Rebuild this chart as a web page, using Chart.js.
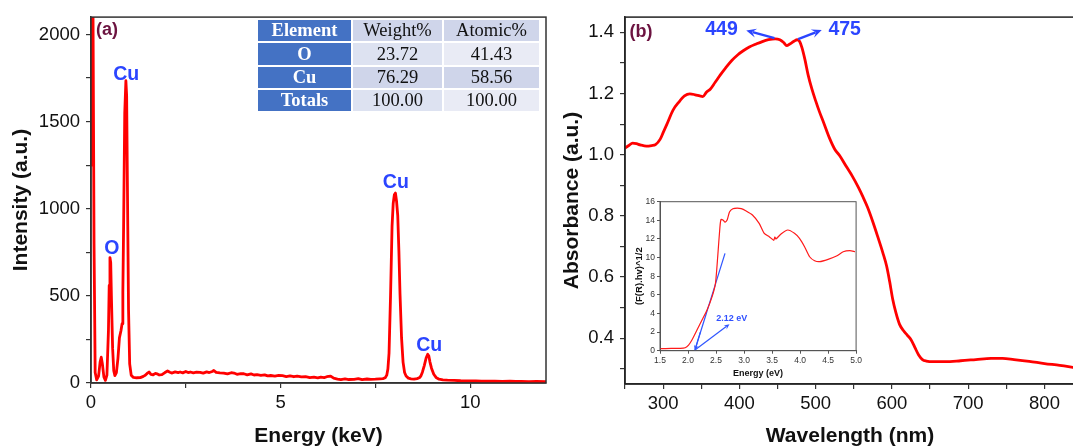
<!DOCTYPE html>
<html><head><meta charset="utf-8">
<script src="https://cdn.jsdelivr.net/npm/chart.js@4.4.1/dist/chart.umd.min.js"></script>
<style>
html,body{margin:0;padding:0;background:#fff;overflow:hidden;width:1073px;height:447px;}
#wrap{position:relative;width:1073px;height:447px;overflow:hidden;background:#fff;}
canvas{position:absolute;}
#cA{left:0;top:0;}
#cB{left:560px;top:0;}
#cI{left:632px;top:192px;}
#tbl{position:absolute;left:258px;top:20px;display:grid;grid-template-columns:93px 89px 95px;grid-auto-rows:21.3px;gap:2px;font-family:"Liberation Serif","Times New Roman",serif;font-size:18.5px;color:#111;}
#tbl div{display:flex;align-items:center;justify-content:center;line-height:1;}
#tbl .el{background:#4472C4;color:#fff;font-weight:bold;}
</style>
</head><body>
<div id="wrap">
<canvas id="cA" width="560" height="447"></canvas>
<canvas id="cB" width="516" height="447"></canvas>
<canvas id="cI" width="232" height="190"></canvas>
<div id="tbl"></div>
</div>
<script>
// ---------- EDS spectrum (panel a) ----------
const edsEnergy = [0.00,0.02,0.05,0.08,0.11,0.15,0.20,0.24,0.27,0.30,0.34,0.38,0.42,0.46,0.48,0.50,0.52,0.54,0.57,0.60,0.63,0.67,0.71,0.75,0.79,0.82,0.84,0.86,0.89,0.92,0.94,0.97,0.99,1.02,1.06,1.12,1.20,1.30,1.38,1.43,1.48,1.53,1.58,1.64,1.70,1.74,1.80,1.87,1.95,2.02,2.08,2.14,2.22,2.30,2.35,2.42,2.50,2.56,2.62,2.70,2.78,2.88,2.96,3.05,3.12,3.20,3.24,3.30,3.40,3.50,3.60,3.70,3.77,3.85,3.95,4.03,4.12,4.22,4.30,4.38,4.48,4.58,4.66,4.74,4.85,4.95,5.05,5.15,5.25,5.35,5.44,5.55,5.66,5.77,5.88,5.98,6.06,6.15,6.22,6.32,6.40,6.50,6.59,6.70,6.80,6.94,7.05,7.15,7.28,7.38,7.50,7.62,7.70,7.76,7.80,7.83,7.86,7.90,7.94,7.97,8.00,8.03,8.06,8.09,8.12,8.15,8.19,8.23,8.27,8.31,8.37,8.44,8.52,8.60,8.66,8.70,8.74,8.79,8.84,8.88,8.91,8.94,8.98,9.04,9.10,9.18,9.28,9.40,9.58,9.75,9.95,10.15,10.30,10.47,10.65,10.85,11.05,11.20,11.35,11.55,11.75,12.00];
const edsIntensity = [1250,2500,2300,800,60,18,40,120,148,110,35,15,45,300,560,720,690,480,200,70,42,60,140,260,300,340,520,900,1550,1735,1650,900,420,110,45,32,30,31,38,44,55,63,50,47,55,53,46,48,60,69,62,57,64,60,63,58,66,60,63,58,62,61,57,64,60,66,72,61,58,57,52,59,57,50,54,53,47,52,46,48,44,47,41,43,40,44,42,37,41,36,40,35,37,31,34,30,34,31,36,40,28,22,19,24,20,21,25,19,23,21,22,24,25,30,45,80,170,500,900,1030,1080,1090,1040,960,760,510,260,120,60,40,28,24,22,25,30,40,62,100,145,165,155,120,85,50,32,22,18,16,15,13,12,12,10,11,10,9,10,9,9,8,9,8];
const edsTickValues = [0,2.5,5,7.5,10];
const edsTickLabels = [0,5,10];
const intensityTickValues = [0,250,500,750,1000,1250,1500,1750,2000];
const intensityTickLabels = [0,500,1000,1500,2000];

// ---------- EDS table ----------
const tableHeader = ['Element','Weight%','Atomic%'];
const tableElements = ['O','Cu','Totals'];
const tableWeight = ['23.72','76.29','100.00'];
const tableAtomic = ['41.43','58.56','100.00'];

// ---------- Absorbance (panel b) ----------
const wavelengthNm = [250,255,260,265,270,278,285,290,296,300,305,313,320,328,335,342,348,352,357,362,368,375,382,390,398,405,413,422,430,438,447,453,458,462,466,471,476,479,482,486,490,495,500,505,510,518,525,532,540,548,556,562,568,575,582,588,593,597,601,605,610,615,620,625,630,635,640,645,655,670,690,710,730,745,760,780,800,820,840];
const absorbance = [1.022,1.030,1.038,1.036,1.032,1.028,1.030,1.033,1.050,1.072,1.100,1.146,1.170,1.192,1.199,1.196,1.192,1.190,1.205,1.215,1.236,1.261,1.284,1.308,1.327,1.340,1.352,1.362,1.370,1.376,1.379,1.376,1.367,1.357,1.362,1.370,1.376,1.370,1.350,1.310,1.262,1.215,1.176,1.140,1.108,1.055,1.018,0.995,0.962,0.930,0.893,0.862,0.828,0.780,0.727,0.680,0.636,0.585,0.527,0.485,0.445,0.425,0.410,0.395,0.370,0.345,0.330,0.325,0.323,0.323,0.326,0.330,0.334,0.334,0.330,0.324,0.317,0.311,0.304];
const wlTickValues = [250,300,350,400,450,500,550,600,650,700,750,800];
const wlTickLabels = [300,400,500,600,700,800];
const absTickValues = [0.3,0.4,0.5,0.6,0.7,0.8,0.9,1.0,1.1,1.2,1.3,1.4];
const absTickLabels = [0.4,0.6,0.8,1.0,1.2,1.4];

// ---------- Tauc inset ----------
const taucEnergy = [1.50,1.70,1.86,1.95,2.01,2.07,2.16,2.25,2.34,2.43,2.49,2.53,2.57,2.59,2.63,2.66,2.70,2.74,2.80,2.88,2.95,3.03,3.15,3.27,3.36,3.45,3.50,3.53,3.55,3.57,3.66,3.78,3.90,3.99,4.08,4.17,4.26,4.35,4.50,4.65,4.77,4.89,4.98];
const taucValue = [0.22,0.24,0.25,0.32,0.61,1.15,2.22,3.29,4.37,5.80,7.23,10.09,13.30,14.10,14.00,13.80,14.05,14.90,15.25,15.30,15.25,15.03,14.57,13.67,12.60,12.24,12.00,11.85,12.20,12.00,12.53,12.96,12.60,12.06,11.17,10.09,9.66,9.56,9.81,10.16,10.63,10.74,10.63];
const tangentEnergy = [2.12,2.66];
const tangentValue = [0,10.45];
const taucXTicks = [1.5,2.0,2.5,3.0,3.5,4.0,4.5,5.0];
const taucYTicks = [0,2,4,6,8,10,12,14,16];
const bandGapLabel = '2.12 eV';

// ================= rendering =================
const FONT = "'Liberation Sans', Arial, Helvetica, sans-serif";
const BLUE = '#2b45ff';
const MAROON = '#6c1340';
Chart.defaults.font.family = FONT;
Chart.defaults.animation = false;

function pts(xs, ys){ return xs.map((x,i)=>({x:x, y:ys[i]})); }

const framePlugin = {
  id:'frame',
  afterDraw(chart, args, opts){
    const {ctx, chartArea:a} = chart;
    ctx.save();
    ctx.strokeStyle = opts.color || '#333';
    ctx.lineWidth = opts.width || 1.5;
    ctx.strokeRect(a.left, a.top, a.right-a.left, a.bottom-a.top);
    ctx.restore();
  }
};

function drawArrow(ctx, x1, y1, x2, y2, color, width, head){
  const ang = Math.atan2(y2-y1, x2-x1);
  ctx.strokeStyle = color; ctx.fillStyle = color; ctx.lineWidth = width;
  ctx.beginPath();
  ctx.moveTo(x1,y1);
  ctx.lineTo(x2 - Math.cos(ang)*head*0.6, y2 - Math.sin(ang)*head*0.6);
  ctx.stroke();
  ctx.beginPath();
  ctx.moveTo(x2,y2);
  ctx.lineTo(x2 - head*Math.cos(ang-0.42), y2 - head*Math.sin(ang-0.42));
  ctx.lineTo(x2 - head*0.55*Math.cos(ang), y2 - head*0.55*Math.sin(ang));
  ctx.lineTo(x2 - head*Math.cos(ang+0.42), y2 - head*Math.sin(ang+0.42));
  ctx.closePath();
  ctx.fill();
}

const notesPlugin = {
  id:'notes',
  afterDatasetsDraw(chart, args, opts){
    const {ctx} = chart; const x = chart.scales.x, y = chart.scales.y;
    ctx.save();
    (opts.arrows||[]).forEach(a=>{
      drawArrow(ctx, x.getPixelForValue(a.x1), y.getPixelForValue(a.y1), x.getPixelForValue(a.x2), y.getPixelForValue(a.y2), a.color, a.width, a.head);
    });
    (opts.texts||[]).forEach(t=>{
      ctx.font = t.font; ctx.fillStyle = t.color; ctx.textAlign='center'; ctx.textBaseline='middle';
      ctx.fillText(t.text, x.getPixelForValue(t.x), y.getPixelForValue(t.y));
    });
    ctx.restore();
  }
};

function axisCfg(o){
  return {
    type:'linear', min:o.min, max:o.max,
    afterBuildTicks: s => { s.ticks = o.ticks.map(v=>({value:v})); },
    afterFit: s => { if (o.width!==undefined) s.width = o.width; if (o.height!==undefined) s.height = o.height; },
    ticks:{autoSkip:false, maxRotation:0, minRotation:0, padding:o.pad, color:o.tickColor||'#111',
      font:{family:FONT, size:o.tickSize},
      callback: v => o.labels.some(l=>Math.abs(l-v)<1e-9) ? (o.fmt ? o.fmt(v) : String(v)) : ''},
    grid:{display:true, drawOnChartArea:false, drawTicks:true, tickLength:o.tickLen, color:o.lineColor||'#333', lineWidth:o.tickWidth||1.2},
    border:{display:true, color:o.lineColor||'#333', width:o.borderWidth||1.5},
    title:{display:true, text:o.title, color:'#111', font:{family:FONT, size:o.titleSize, weight:'bold', lineHeight:1}, padding:o.titlePad}
  };
}

// Panel (a)
new Chart(document.getElementById('cA'), {
  type:'line',
  data:{datasets:[{data:pts(edsEnergy, edsIntensity), borderColor:'#ff0000', borderWidth:2.8, borderJoinStyle:'round', borderCapStyle:'round', pointRadius:0, tension:0, fill:false}]},
  plugins:[framePlugin, notesPlugin],
  options:{
    responsive:false, animation:false, parsing:false,
    layout:{padding:{top:15, right:14, left:0, bottom:0}},
    plugins:{legend:{display:false}, tooltip:{enabled:false},
      frame:{color:'#333', width:1.5},
      notes:{texts:[
        {text:'(a)', x:0.42, y:2024, font:"bold 18px "+FONT, color:MAROON},
        {text:'Cu', x:0.93, y:1770, font:"bold 19.5px "+FONT, color:BLUE},
        {text:'O', x:0.55, y:769, font:"bold 19.5px "+FONT, color:BLUE},
        {text:'Cu', x:8.04, y:1151, font:"bold 19.5px "+FONT, color:BLUE},
        {text:'Cu', x:8.92, y:216, font:"bold 19.5px "+FONT, color:BLUE}
      ]}
    },
    scales:{
      x: axisCfg({min:0, max:12, ticks:edsTickValues, labels:edsTickLabels, height:64, pad:4, tickLen:5, tickSize:18.5, title:'Energy (keV)', titleSize:21, titlePad:{top:0,bottom:0}}),
      y: axisCfg({min:0, max:2100, ticks:intensityTickValues, labels:intensityTickLabels, width:91, pad:6, tickLen:5, tickSize:18.5, title:'Intensity (a.u.)', titleSize:21, titlePad:{top:11,bottom:0}})
    }
  }
});

// Panel (b)
new Chart(document.getElementById('cB'), {
  type:'line',
  data:{datasets:[{data:pts(wavelengthNm, absorbance), borderColor:'#ff0000', borderWidth:2.8, borderJoinStyle:'round', pointRadius:0, tension:0.35, cubicInterpolationMode:'monotone', fill:false}]},
  plugins:[framePlugin, notesPlugin],
  options:{
    responsive:false, animation:false, parsing:false,
    layout:{padding:{top:14, right:1, left:0, bottom:0}},
    plugins:{legend:{display:false}, tooltip:{enabled:false},
      frame:{color:'#222', width:1.5},
      notes:{
        arrows:[
          {x1:446, y1:1.381, x2:409, y2:1.4065, color:BLUE, width:2.4, head:11},
          {x1:477, y1:1.378, x2:508, y2:1.408, color:BLUE, width:2.4, head:11}
        ],
        texts:[
          {text:'(b)', x:271, y:1.4, font:"bold 18px "+FONT, color:MAROON},
          {text:'449', x:376.5, y:1.4075, font:"bold 19.5px "+FONT, color:BLUE},
          {text:'475', x:538, y:1.4075, font:"bold 19.5px "+FONT, color:BLUE}
        ]}
    },
    scales:{
      x: axisCfg({min:250, max:840, ticks:wlTickValues, labels:wlTickLabels, height:63, pad:4, tickLen:5, tickSize:18.5, title:'Wavelength (nm)', titleSize:21, titlePad:{top:0,bottom:0}}),
      y: axisCfg({min:0.25, max:1.45, ticks:absTickValues, labels:absTickLabels, width:65, pad:6, tickLen:5, tickSize:18.5, fmt:v=>v.toFixed(1), title:'Absorbance (a.u.)', titleSize:21, titlePad:{top:1.5,bottom:0}})
    }
  }
});

// Inset (Tauc plot)
new Chart(document.getElementById('cI'), {
  type:'line',
  data:{datasets:[
    {data:pts(taucEnergy, taucValue), borderColor:'#ff1a1a', borderWidth:1.2, pointRadius:0, tension:0.2, fill:false},
    {data:pts(tangentEnergy, tangentValue), borderColor:'#2f55ff', borderWidth:1.2, pointRadius:0, tension:0, fill:false}
  ]},
  plugins:[framePlugin, notesPlugin],
  options:{
    responsive:false, animation:false, parsing:false,
    layout:{padding:{top:9.7, right:7.5, left:0, bottom:0}},
    plugins:{legend:{display:false}, tooltip:{enabled:false},
      frame:{color:'#555', width:1},
      notes:{
        arrows:[
          {x1:2.22, y1:2.0, x2:2.12, y2:0.02, color:'#2f55ff', width:1.2, head:6},
          {x1:2.13, y1:0.1, x2:2.74, y2:2.85, color:'#2f55ff', width:1.2, head:6}
        ],
        texts:[{text:bandGapLabel, x:2.78, y:3.5, font:"bold 9px "+FONT, color:'#3050ff'}]
      }
    },
    scales:{
      x: axisCfg({min:1.5, max:5.0, ticks:taucXTicks, labels:taucXTicks, height:31.3, pad:2, tickLen:3, tickSize:8.5, tickColor:'#333', lineColor:'#555', tickWidth:1, borderWidth:1, fmt:v=>v.toFixed(1), title:'Energy (eV)', titleSize:9, titlePad:{top:0,bottom:4}}),
      y: axisCfg({min:0, max:16, ticks:taucYTicks, labels:taucYTicks, width:28, pad:2, tickLen:3, tickSize:8.5, tickColor:'#333', lineColor:'#555', tickWidth:1, borderWidth:1, title:'(F(R).hv)^1/2', titleSize:9.5, titlePad:{top:3,bottom:0}})
    }
  }
});

// Table
(function(){
  const tbl = document.getElementById('tbl');
  const bgs = [['#4472C4','#CFD5EA','#CFD5EA'],['#4472C4','#DDE2F1','#E9EBF5'],['#4472C4','#CFD5EA','#CFD5EA'],['#4472C4','#DDE2F1','#E9EBF5']];
  const rows = [tableHeader].concat(tableElements.map((e,i)=>[e, tableWeight[i], tableAtomic[i]]));
  rows.forEach((r,ri)=>r.forEach((c,ci)=>{
    const d = document.createElement('div');
    d.textContent = c;
    if (ci===0) d.className='el';
    d.style.background = bgs[ri][ci];
    tbl.appendChild(d);
  }));
})();
</script>
</body></html>
